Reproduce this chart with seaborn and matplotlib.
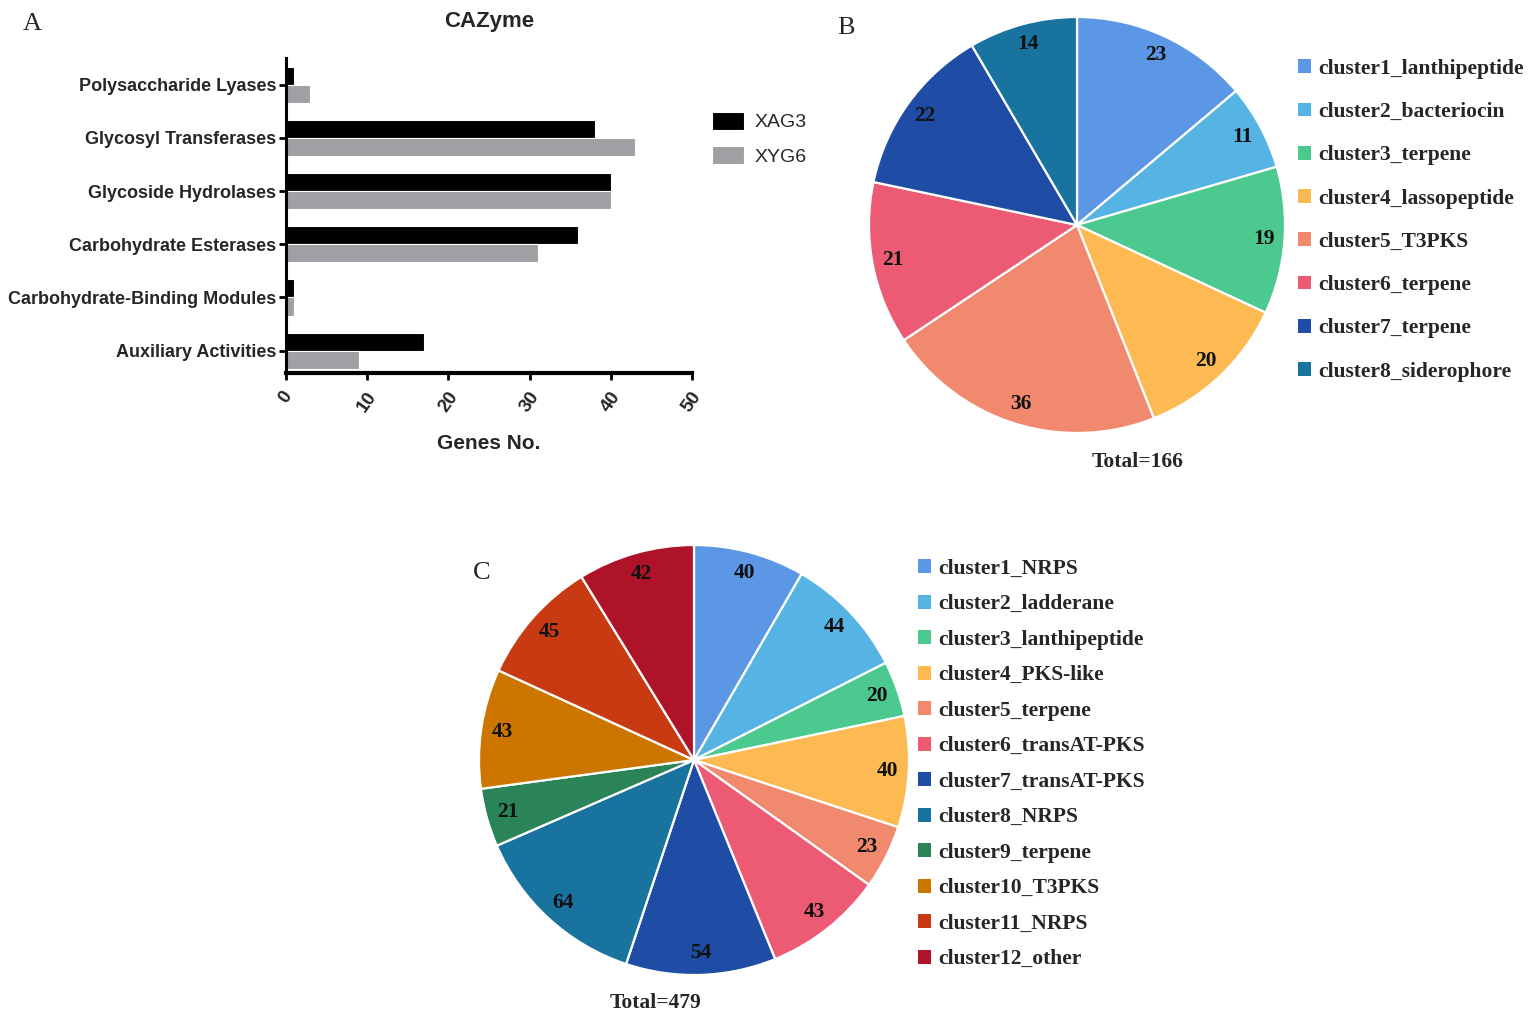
import numpy as np
import pandas as pd
import seaborn as sns
import matplotlib.pyplot as plt
from matplotlib.patches import Patch

# panel A data
cazy_classes = ["Polysaccharide Lyases", "Glycosyl Transferases", "Glycoside Hydrolases",
                "Carbohydrate Esterases", "Carbohydrate-Binding Modules", "Auxiliary Activities"]
xag3_genes = [1, 38, 40, 36, 1, 17]
xyg6_genes = [3, 43, 40, 31, 1, 9]

# panel B data
b_clusters = ["cluster1_lanthipeptide", "cluster2_bacteriocin", "cluster3_terpene",
              "cluster4_lassopeptide", "cluster5_T3PKS", "cluster6_terpene",
              "cluster7_terpene", "cluster8_siderophore"]
b_counts = [23, 11, 19, 20, 36, 21, 22, 14]

# panel C data
c_clusters = ["cluster1_NRPS", "cluster2_ladderane", "cluster3_lanthipeptide",
              "cluster4_PKS-like", "cluster5_terpene", "cluster6_transAT-PKS",
              "cluster7_transAT-PKS", "cluster8_NRPS", "cluster9_terpene",
              "cluster10_T3PKS", "cluster11_NRPS", "cluster12_other"]
c_counts = [40, 44, 20, 40, 23, 43, 54, 64, 21, 43, 45, 42]

pie_colors = ["#5B97E5", "#55B4E4", "#4CC98E", "#FDBA52", "#F0896D", "#EC5A74",
              "#1F4DA5", "#18739F", "#2A8458", "#CC7600", "#C83A12", "#AF1329"]

sns.set_theme(style="white")
plt.rcParams["font.family"] = ["Liberation Sans", "DejaVu Sans"]

W, H = 1535, 1017
fig = plt.figure(figsize=(W / 100, H / 100), dpi=100)


def px_axes(left, top, right, bottom):
    return fig.add_axes([left / W, 1 - bottom / H, (right - left) / W, (bottom - top) / H])


# ---------------- panel A ----------------
ax = px_axes(286, 58, 692, 373)
df = pd.DataFrame({
    "class": cazy_classes * 2,
    "genes": xag3_genes + xyg6_genes,
    "strain": ["XAG3"] * len(cazy_classes) + ["XYG6"] * len(cazy_classes),
})
sns.barplot(data=df, x="genes", y="class", hue="strain", orient="h",
            palette={"XAG3": "black", "XYG6": "#A0A0A4"}, width=0.68,
            edgecolor="white", linewidth=0.8, ax=ax)
ax.set_xlim(0, 50)
ax.set_ylim(5.42, -0.5)
ax.set_xticks(np.arange(0, 51, 10))
for s in ["top", "right"]:
    ax.spines[s].set_visible(False)
ax.spines["left"].set_linewidth(2.2)
ax.spines["bottom"].set_linewidth(3)
ax.spines["left"].set_color("black")
ax.spines["bottom"].set_color("black")
ax.tick_params(axis="both", which="both", direction="out", length=5, width=2,
               color="black", left=True, bottom=True)
ax.tick_params(axis="y", labelsize=13, pad=2)
ax.tick_params(axis="x", labelsize=13.5, pad=6)
for lab in ax.get_yticklabels():
    lab.set_fontweight("bold")
for lab in ax.get_xticklabels():
    lab.set_fontweight("bold")
    lab.set_rotation(55)
    lab.set_ha("center")
    lab.set_va("top")
ax.set_ylabel("")
ax.set_xlabel("Genes No.", fontsize=15, fontweight="bold", labelpad=14)
ax.set_title("CAZyme", fontsize=16, fontweight="bold", pad=22)
ax.legend(title=None, frameon=False, loc="upper left", bbox_to_anchor=(1.026, 0.86),
          fontsize=14, handlelength=1.65, handleheight=1.05, labelspacing=0.75,
          handletextpad=0.5, borderpad=0)

# ---------------- panels B and C ----------------
serif = ["Liberation Serif", "DejaVu Serif"]


def draw_pie(axp, counts, colors, total_x, total_y):
    total = sum(counts)
    axp.pie(counts, colors=colors, startangle=90, counterclock=False,
            autopct=lambda p: f"{round(p * total / 100)}", pctdistance=0.9,
            wedgeprops=dict(edgecolor="white", linewidth=1.6),
            textprops=dict(fontsize=15.5, fontweight="bold", family=serif, color="#111111"))
    axp.set_xlim(-1, 1)
    axp.set_ylim(-1, 1)
    axp.set_aspect("equal")
    axp.text(total_x, total_y, f"Total={total}", ha="center", va="center",
             fontsize=15.5, fontweight="bold", family=serif)


axb = px_axes(1077 - 208, 225 - 208, 1077 + 208, 225 + 208)
draw_pie(axb, b_counts, pie_colors[:8], 0.29, -1.14)
handles_b = [Patch(facecolor=c, edgecolor="none") for c in pie_colors[:8]]
fig.legend(handles_b, b_clusters, loc="upper left", bbox_to_anchor=(1287 / W, 1 - 48 / H),
           frameon=False, prop=dict(family=serif, weight="bold", size=15.5),
           handlelength=0.6, handleheight=0.6, handletextpad=0.35, labelspacing=1.08,
           borderpad=0)

axc = px_axes(694 - 215, 760 - 215, 694 + 215, 760 + 215)
draw_pie(axc, c_counts, pie_colors, -0.18, -1.13)
handles_c = [Patch(facecolor=c, edgecolor="none") for c in pie_colors]
fig.legend(handles_c, c_clusters, loc="upper left", bbox_to_anchor=(907 / W, 1 - 548 / H),
           frameon=False, prop=dict(family=serif, weight="bold", size=15.5),
           handlelength=0.6, handleheight=0.6, handletextpad=0.35, labelspacing=0.72,
           borderpad=0)

# panel letters
for letter, x, y in [("A", 32, 24), ("B", 846, 28), ("C", 482, 573)]:
    fig.text(x / W, 1 - y / H, letter, ha="center", va="center", fontsize=19, family=serif)

fig.savefig("out.png", dpi=100)
